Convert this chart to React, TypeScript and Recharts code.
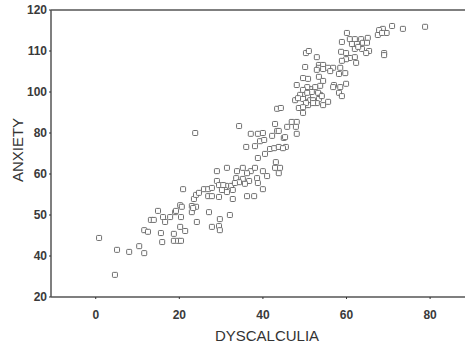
import React from "react";
import {
  ScatterChart,
  Scatter,
  XAxis,
  YAxis,
  ReferenceLine,
  Label,
} from "recharts";

// dyscalculia score (x) and anxiety score (y)
const dyscalculia = [
  0.8, 4.6, 5.1, 8.0, 10.4, 11.6, 11.6, 12.5, 15.6, 15.9,
  18.7, 18.7, 19.7, 20.4, 13.2, 13.9, 14.9, 16.1, 16.6, 17.8,
  19.0, 20.2, 20.4, 20.2, 21.4, 20.9, 23.0, 24.0, 23.0, 24.2,
  23.5, 24.0, 24.7, 25.9, 26.9, 27.8, 26.9, 27.8, 27.1, 27.8,
  23.8, 34.3, 37.1, 38.8, 40.0, 36.0, 38.1, 39.3, 40.3, 38.8,
  40.5, 41.7, 42.9, 29.0, 31.4, 33.8, 35.2, 37.1, 38.1, 40.0,
  33.6, 35.2, 36.2, 36.7, 38.6, 38.8, 40.0, 29.0, 29.5, 31.2,
  32.4, 32.8, 30.9, 31.4, 36.2, 37.9, 32.8, 29.5, 32.1, 29.7,
  29.5, 29.7, 19.2, 43.4, 43.8, 42.2, 45.0, 45.5, 42.7, 43.8,
  43.1, 42.9, 43.8, 44.1, 41.0, 34.3, 33.3, 35.7, 30.2, 23.3,
  20.6, 30.5,
  78.8, 73.5, 70.9, 68.7, 67.8, 69.6, 67.5, 68.5, 69.0, 69.0,
  60.1, 58.9, 60.8, 62.0, 63.5, 65.1, 61.3, 62.5, 63.9, 64.9,
  62.0, 63.7, 62.8, 65.4, 64.7, 58.7, 59.9, 62.0, 60.8, 59.9,
  58.9, 62.3, 50.3, 51.0, 50.1, 52.9, 53.4, 53.4, 54.4, 54.4,
  52.9, 55.6, 56.8, 56.1, 58.5, 59.7, 58.2, 53.4, 49.6, 50.8,
  54.4, 48.1, 53.7, 52.5, 51.3, 50.6, 57.0, 56.8, 58.5, 59.9,
  58.2, 58.9, 49.6, 48.9, 47.7, 48.4, 49.6, 50.8, 51.3, 50.8,
  52.0, 53.7, 53.4, 52.9, 54.4, 55.6, 48.6, 49.6, 43.4, 44.3,
  46.9, 48.1, 47.9, 45.8, 48.1, 45.3, 44.8, 51.7, 50.6, 53.2,
  54.1, 50.3, 52.0, 49.6,
];

const anxiety = [
  64.4, 55.4, 61.5, 61.0, 62.4, 60.7, 66.3, 65.9, 65.6, 63.4,
  65.4, 63.7, 63.7, 63.7, 68.8, 68.8, 71.0, 69.5, 68.3, 69.5,
  70.7, 72.4, 69.5, 67.1, 66.1, 76.3, 72.2, 72.0, 70.7, 68.3,
  73.9, 74.9, 75.4, 76.3, 76.3, 76.6, 74.6, 74.6, 70.7, 67.1,
  90.0, 91.7, 89.8, 89.8, 90.0, 86.6, 86.8, 88.0, 88.3, 83.9,
  84.9, 86.1, 92.2, 80.7, 81.5, 80.7, 81.5, 80.7, 81.5, 80.7,
  79.0, 78.8, 80.2, 78.3, 79.0, 77.8, 76.3, 78.3, 77.3, 77.1,
  77.1, 76.1, 76.1, 75.6, 74.6, 74.6, 73.9, 74.4, 70.0, 69.0,
  67.3, 66.3, 71.0, 90.5, 90.5, 89.3, 88.8, 86.6, 86.3, 86.6,
  82.9, 81.5, 80.2, 81.5, 79.5, 78.0, 77.8, 77.6, 76.1, 71.7,
  72.0, 77.3,
  115.9, 115.4, 116.1, 115.4, 115.1, 114.4, 113.9, 114.4, 109.5, 109.0,
  114.4, 112.2, 112.9, 112.9, 112.9, 113.2, 111.7, 111.7, 112.0, 112.0,
  110.5, 110.5, 111.0, 110.0, 109.5, 109.8, 109.5, 108.5, 108.3, 108.0,
  107.6, 107.1, 109.5, 110.0, 106.1, 108.5, 106.6, 105.9, 106.6, 105.6,
  105.4, 105.9, 105.9, 105.1, 105.9, 104.6, 104.4, 103.7, 103.4, 103.2,
  102.7, 101.7, 101.5, 101.2, 100.7, 101.2, 101.7, 101.2, 101.2, 102.0,
  99.8, 99.0, 100.5, 99.3, 98.0, 98.5, 98.3, 98.8, 98.0, 96.8,
  98.0, 99.3, 98.3, 97.3, 96.8, 97.6, 96.1, 94.9, 95.9, 96.1,
  92.7, 92.7, 91.5, 91.5, 89.8, 89.0, 86.3, 100.0, 99.8, 99.8,
  99.0, 97.3, 97.3, 96.3,
];

const xTicks = [0, 20, 40, 60, 80];
// tick positions on the y axis and the labels printed at them
const yTicks = [50, 60, 70, 80, 90, 100, 110, 120];
const yTickLabels = ["20", "40", "50", "60", "80", "100", "110", "120"];

const points = dyscalculia.map((x, i) => ({ x, y: anxiety[i] }));

const axisColor = "#555";
const tickFont = {
  fontSize: 12,
  fontWeight: "bold" as const,
  fill: "#3a3a3a",
  fontFamily: "Liberation Sans, Arial, sans-serif",
};

function SquareDot(props: any) {
  const { cx, cy } = props;
  if (cx == null || cy == null) return null;
  return (
    <rect
      x={cx - 2.5}
      y={cy - 2.5}
      width={5}
      height={5}
      rx={0.8}
      fill="#fff"
      stroke="#6e6e6e"
      strokeWidth={1}
    />
  );
}

export default function App() {
  return (
    <div style={{ position: "absolute", left: 0, top: 0, background: "#fff" }}>
      <ScatterChart
        width={465}
        height={344}
        margin={{ top: 10, right: 0, bottom: 0, left: 0 }}
      >
        <XAxis
          type="number"
          dataKey="x"
          domain={[-10.7, 88.35]}
          ticks={xTicks}
          allowDataOverflow
          height={47}
          stroke={axisColor}
          axisLine={{ stroke: axisColor, strokeWidth: 1.5 }}
          tickLine={{ stroke: "#333" }}
          tickSize={2}
          tickMargin={11}
          tick={tickFont}
        >
          <Label
            content={() => (
              <text
                x={267}
                y={341}
                textAnchor="middle"
                fontSize={15}
                fill="#333"
                fontFamily="Liberation Sans, Arial, sans-serif"
              >
                DYSCALCULIA
              </text>
            )}
          />
        </XAxis>
        <YAxis
          type="number"
          dataKey="y"
          domain={[50, 120]}
          ticks={yTicks}
          allowDataOverflow
          width={51}
          axisLine={{ stroke: axisColor, strokeWidth: 1.5 }}
          tickLine={{ stroke: "#333" }}
          tickSize={2}
          tickMargin={2}
          tick={tickFont}
          tickFormatter={(v: number) => yTickLabels[yTicks.indexOf(v)]}
        >
          <Label
            content={() => (
              <text
                x={0}
                y={0}
                transform="translate(23, 150) rotate(-90)"
                textAnchor="middle"
                fontSize={15}
                fill="#333"
                fontFamily="Liberation Sans, Arial, sans-serif"
              >
                ANXIETY
              </text>
            )}
          />
        </YAxis>
        <ReferenceLine y={120} stroke={axisColor} strokeWidth={1.5} />
        <Scatter
          data={points}
          shape={SquareDot}
          isAnimationActive={false}
        />
      </ScatterChart>
    </div>
  );
}
